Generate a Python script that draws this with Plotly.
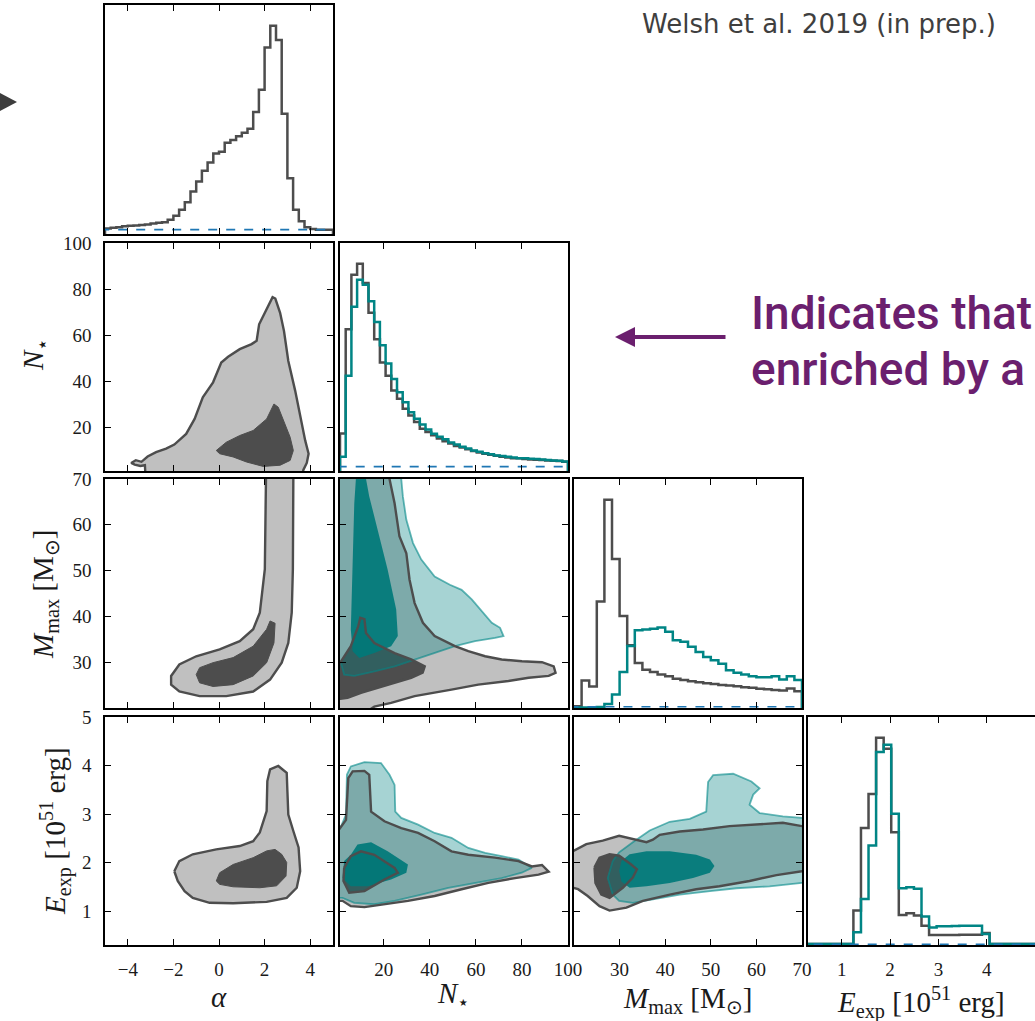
import plotly.graph_objects as go

W, H = 1035, 1021

# ---------------- 1-D marginal histograms (heights scaled so the tallest grey bar = 100) ----------------
ALPHA_BINS = (-5.0, 5.0, 40)
ALPHA_HIST = [2.7, 3.0, 3.3, 3.7, 4.0, 4.1, 4.3, 4.6, 5.1, 5.4,
              5.7, 6.8, 8.8, 11.6, 15.3, 20.4, 25.2, 30.4, 34.4, 38.7,
              39.5, 43.8, 45.1, 47.0, 48.6, 50.6, 58.6, 69.3, 89.6, 100.0,
              93.2, 57.8, 26.8, 11.6, 6.1, 3.2, 2.4, 2.1, 2.1, 2.1]

NSTAR_BINS = (1.0, 100.0, 40)
NSTAR_HIST_GREY = [18.1, 68.4, 94.7, 100.0, 90.7, 76.4, 63.6, 52.4, 46.0, 38.8,
                   34.8, 30.0, 26.8, 23.6, 20.4, 18.8, 17.3, 15.7, 14.4, 13.3,
                   12.1, 11.3, 10.5, 9.6, 8.9, 8.3, 7.8, 7.3, 6.9, 6.5,
                   6.2, 6.1, 5.8, 5.6, 5.4, 5.3, 5.1, 5.0, 4.8, 4.5]
NSTAR_HIST_TEAL = [6.9, 46.0, 79.2, 92.3, 89.9, 81.9, 71.9, 60.7, 51.9, 44.4,
                   38.0, 33.2, 28.4, 25.2, 22.4, 20.0, 18.0, 16.5, 15.3, 13.7,
                   12.8, 11.7, 10.9, 9.9, 9.3, 8.6, 8.1, 7.5, 7.2, 6.9,
                   6.5, 6.2, 6.1, 5.9, 5.8, 5.6, 5.3, 5.1, 5.0, 4.6]

MMAX_BINS = (20.0, 70.0, 30)
MMAX_HIST_GREY = [0.8, 13.2, 10.3, 51.1, 100.0, 71.6, 44.2, 30.2, 21.6, 18.4,
                  17.3, 16.1, 15.2, 14.0, 13.5, 12.9, 12.4, 11.9, 11.5, 11.1,
                  10.8, 10.5, 10.0, 9.7, 9.2, 9.0, 8.7, 8.4, 9.4, 8.1]
MMAX_HIST_TEAL = [0.3, 0.3, 0.3, 0.5, 1.9, 6.5, 17.3, 29.8, 37.4, 37.7,
                  38.1, 38.7, 36.6, 32.6, 31.8, 29.4, 26.9, 24.5, 22.9, 21.3,
                  18.1, 16.9, 16.1, 15.3, 14.8, 14.8, 15.2, 13.7, 15.2, 13.5]

EEXP_BINS = (0.3, 5.0, 30)
EEXP_HIST_GREY = [0.5, 0.5, 0.5, 0.5, 0.5, 0.5, 16.6, 56.4, 72.9, 100.0,
                  94.7, 54.4, 14.5, 15.3, 14.2, 9.3, 4.8, 4.8, 4.8, 4.8,
                  4.9, 4.9, 4.9, 5.8, 0.5, 0.5, 0.5, 0.5, 0.5, 0.5]
EEXP_HIST_TEAL = [0.5, 0.5, 0.5, 0.5, 0.5, 0.5, 6.1, 22.2, 48.0, 93.1,
                  96.6, 63.3, 27.4, 27.9, 27.1, 13.8, 8.5, 9.0, 9.0, 9.2,
                  9.3, 9.3, 9.3, 5.3, 0.5, 0.5, 0.5, 0.5, 0.5, 0.5]

PRIOR_ALPHA = 2.1
PRIOR_NSTAR = 2.1
PRIOR_MMAX = 0.6
PRIOR_EEXP = 0.3

# ---------------- 2-D credible-region contours (vertices in data units) ----------------
# alpha vs N*
A_N_GREY_OUTER = [(-3.2, -5), (-3.25, 3.5), (-3.45, 3.2), (-3.7, 3.8), (-3.85, 4.5), (-3.65, 5.7),
                  (-3.4, 5.0), (-3.13, 7.3), (-2.76, 9.2), (-2.32, 10.7), (-1.96, 12.5), (-1.44, 17.1),
                  (-1.07, 23.6), (-0.71, 33.0), (-0.26, 39.5), (0.10, 48.1), (0.40, 50.6), (0.91, 53.9),
                  (1.43, 56.1), (1.65, 57.5), (1.76, 64.7), (2.09, 71.2), (2.35, 76.5), (2.47, 75.9),
                  (2.68, 69.7), (2.85, 61.8), (3.04, 48.8), (3.34, 35.9), (3.56, 24.4), (3.78, 14.3),
                  (3.93, 8.5), (3.85, 4.5), (3.7, 1.5), (3.6, -5)]
A_N_GREY_INNER = [(-0.12, 9.9), (0.32, 13.5), (0.91, 16.4), (1.5, 18.6), (2.09, 23.6), (2.41, 30.1),
                  (2.6, 28.7), (2.82, 22.9), (3.12, 15.7), (3.26, 9.9), (3.12, 5.6), (2.68, 3.5),
                  (1.94, 3.0), (1.21, 4.9), (0.62, 7.1), (0.03, 8.5)]
# alpha vs Mmax
A_M_GREY_OUTER = [(2.06, 75), (2.06, 70), (2.01, 50.3), (1.79, 40.8), (1.5, 37.2), (0.91, 34.6),
                  (0.03, 32.8), (-1.0, 31.3), (-1.74, 29.5), (-2.1, 27.0), (-2.1, 25.1), (-1.74, 23.6),
                  (-0.85, 22.6), (0.32, 22.6), (1.5, 23.6), (2.24, 26.2), (2.75, 29.9), (3.04, 34.2),
                  (3.19, 40.8), (3.24, 50.3), (3.26, 70), (3.26, 75)]
A_M_GREY_INNER = [(-1.0, 27.3), (-0.85, 28.8), (-0.26, 29.9), (0.62, 31.0), (1.5, 33.5), (2.09, 37.2),
                  (2.24, 39.0), (2.46, 38.5), (2.41, 34.2), (2.09, 29.9), (1.5, 27.0), (0.62, 25.1),
                  (-0.26, 24.7), (-0.85, 25.5)]
# alpha vs Eexp
A_E_GREY_OUTER = [(-1.96, 1.82), (-1.74, 2.03), (-1.15, 2.17), (-0.12, 2.27), (0.91, 2.34), (1.5, 2.44),
                  (1.79, 2.62), (2.09, 3.06), (2.12, 3.68), (2.24, 3.92), (2.6, 3.99), (2.97, 3.85),
                  (3.0, 3.47), (3.04, 2.99), (3.26, 2.65), (3.49, 2.31), (3.56, 1.82), (3.41, 1.48),
                  (2.97, 1.27), (2.09, 1.19), (0.62, 1.16), (-0.41, 1.17), (-1.15, 1.27), (-1.51, 1.41),
                  (-1.81, 1.62)]
A_E_GREY_INNER = [(-0.12, 1.62), (0.03, 1.79), (0.62, 1.96), (1.5, 2.1), (2.09, 2.24), (2.46, 2.27),
                  (2.75, 2.17), (2.97, 2.0), (2.94, 1.72), (2.53, 1.52), (1.79, 1.48), (0.62, 1.5),
                  (0.03, 1.55)]
# N* vs Mmax
N_M_GREY_OUTER = [(-5, 75), (22.5, 75), (22.5, 70), (24.7, 64.7), (26.8, 57.5), (29.8, 53.8), (31.2, 48),
                  (33.4, 42.9), (37, 38.6), (42.1, 35.7), (50.9, 33.5), (56.7, 32.4), (64, 31.3),
                  (71.2, 30.6), (80, 30.2), (88.7, 30.0), (93.8, 29.1), (94.6, 27.7), (91.6, 27.0),
                  (82.9, 26.6), (74.1, 25.9), (61, 25.1), (49.4, 24.0), (33.4, 22.6), (23.2, 21.1),
                  (15.9, 20.3), (12, 19), (-5, 15)]
N_M_GREY_INNER = [(-5, 29.9), (1.1, 29.9), (5.7, 33.5), (8.9, 37.8), (9.8, 39.7), (11.6, 39.4),
                  (12.3, 36.4), (15.9, 34.2), (24.7, 32.0), (31.9, 30.6), (37.8, 29.1), (36.9, 27.7),
                  (31.9, 26.6), (20.3, 24.8), (10.1, 23.3), (4.3, 22.2), (1.1, 22.0), (-5, 22.0)]
N_M_TEAL_OUTER = [(-5, 75), (27.6, 75), (27.6, 70), (28.3, 66.2), (29.8, 61.1), (32.7, 56), (36.3, 52.4),
                  (42.1, 48.7), (48.7, 46.9), (53.8, 45.8), (58.2, 43.7), (62.5, 41.1), (66.9, 38.6),
                  (70.5, 37.5), (72, 35.7), (68.3, 35.3), (59.6, 34.6), (50.9, 33.5), (42.1, 32.0),
                  (33.4, 30.6), (24.7, 29.1), (15.9, 28.0), (7.2, 27.0), (2.8, 27.3), (1.4, 29.9),
                  (-5, 29.9)]
N_M_TEAL_INNER = [(7.9, 75), (7.9, 70), (7.2, 64.7), (6.5, 50.2), (5.7, 37.1), (6.5, 32.4), (9.4, 30.9),
                  (15.9, 32.0), (23.2, 33.5), (26.1, 35.7), (25.4, 41.5), (21.7, 50.2), (17.4, 58.9),
                  (13.7, 66.2), (12.3, 70), (12.3, 75)]
# N* vs Eexp
N_E_GREY_OUTER = [(-5, 2.68), (0.6, 2.68), (3.6, 2.88), (4.6, 3.74), (6.5, 3.88), (11.6, 3.89), (13.7, 3.81),
                  (14.5, 3.05), (20.3, 2.85), (27.6, 2.71), (34.9, 2.61), (42.1, 2.44), (49.4, 2.23),
                  (56.7, 2.16), (68.3, 2.10), (78.5, 2.03), (84.3, 1.92), (88.7, 1.95), (91.6, 1.81),
                  (87.2, 1.75), (77, 1.68), (65.4, 1.58), (53.8, 1.45), (42.1, 1.31), (30.5, 1.21),
                  (20.3, 1.14), (11.6, 1.08), (5.7, 1.10), (2.1, 1.21), (-5, 1.21)]
N_E_GREY_INNER = [(2.8, 1.89), (5.7, 2.13), (10.1, 2.23), (15.9, 2.16), (24.7, 1.89), (26.1, 1.79),
                  (20.3, 1.65), (11.6, 1.41), (5.0, 1.38), (2.5, 1.62)]
N_E_TEAL_OUTER = [(-5, 2.75), (1.5, 2.75), (3.6, 2.99), (4.0, 3.81), (5.7, 3.98), (11.6, 4.07), (18.8, 4.05),
                  (22.5, 3.81), (24.7, 3.6), (25, 3.05), (27.6, 2.92), (34.9, 2.78), (42.1, 2.61),
                  (49.4, 2.51), (56.7, 2.30), (64, 2.20), (71.2, 2.13), (78.5, 2.06), (84.3, 1.89),
                  (79.9, 1.79), (71.2, 1.68), (59.6, 1.58), (48, 1.48), (36.3, 1.34), (24.7, 1.21),
                  (15.9, 1.14), (7.2, 1.17), (2.1, 1.27), (-5, 1.27)]
N_E_TEAL_INNER = [(5.7, 2.16), (8.6, 2.37), (14.5, 2.42), (21.7, 2.23), (30.5, 1.96), (29.8, 1.79),
                  (23.2, 1.65), (13.0, 1.51), (5.7, 1.51), (2.1, 1.68), (2.8, 2.03)]
# Mmax vs Eexp
M_E_GREY_OUTER = [(15, 2.24), (19.9, 2.24), (22.7, 2.38), (26.3, 2.45), (29.9, 2.55), (32.9, 2.48),
                  (35.9, 2.42), (37.3, 2.47), (38.8, 2.57), (43.2, 2.64), (48.3, 2.68), (54.1, 2.75),
                  (60, 2.78), (65.8, 2.82), (70, 2.75), (75, 2.75), (75, 1.82), (70, 1.82), (64.4, 1.74),
                  (58.5, 1.62), (51.9, 1.51), (46.8, 1.45), (41, 1.34), (35.1, 1.21), (31.5, 1.07),
                  (27.8, 1.01), (25.6, 1.10), (23, 1.31), (20.9, 1.45), (19.9, 1.48), (15, 1.48)]
M_E_GREY_INNER = [(24.5, 1.9), (25.6, 2.1), (27.8, 2.17), (29.9, 2.14), (32.4, 1.97), (33.8, 1.86),
                  (32.9, 1.69), (30.7, 1.48), (27.8, 1.27), (26.0, 1.34), (24.7, 1.58)]
M_E_TEAL_OUTER = [(28.5, 2.03), (29.9, 2.21), (32.9, 2.42), (36.6, 2.66), (41, 2.84), (45.4, 2.9),
                  (49, 3.05), (49.4, 3.66), (50.5, 3.8), (54.9, 3.83), (58.9, 3.67), (60.7, 3.53),
                  (59.3, 3.4), (58.5, 3.19), (60.7, 3.02), (65.8, 2.95), (70, 2.92), (75, 2.92),
                  (75, 1.58), (70, 1.58), (62.9, 1.51), (55.6, 1.47), (49.8, 1.41), (43.2, 1.34),
                  (37.3, 1.24), (32.9, 1.17), (29.9, 1.21), (28.5, 1.34), (27.4, 1.68)]
M_E_TEAL_INNER = [(30.4, 2.03), (32.2, 2.17), (35.9, 2.23), (41, 2.23), (46.8, 2.16), (49.8, 2.06),
                  (50.8, 1.93), (49.8, 1.79), (46.1, 1.68), (41, 1.58), (35.9, 1.51), (32.2, 1.48),
                  (30.4, 1.61), (29.9, 1.83)]

# ---------------- styling ----------------
GREY_LINE = "#4d4d4d"
GREY_LIGHT = "#c0c0c0"
GREY_DARK = "#4d4d4d"
TEAL = "#008585"
TEAL_OUTER_FILL = "rgba(0,128,128,0.35)"
TEAL_INNER_FILL = "rgba(0,122,122,0.92)"
TEAL_EDGE = "rgba(0,135,135,0.6)"
PRIOR_BLUE = "#1f77b4"
PURPLE = "#6b1f6e"
SERIF = "Liberation Serif"

COLS = [(105, 333), (340, 568), (574, 802), (808, 1035)]
ROWS = [(5, 234), (243, 471), (479, 708), (717, 945)]

VAR_RANGE = {"alpha": [-5, 5], "nstar": [1, 100], "mmax": [20, 70], "eexp": [0.3, 5.0]}
VAR_TICKS = {"alpha": [-4, -2, 0, 2, 4], "nstar": [20, 40, 60, 80, 100],
             "mmax": [30, 40, 50, 60, 70], "eexp": [1, 2, 3, 4, 5]}

PANELS = {1: (0, 0, "alpha", None), 2: (1, 0, "alpha", "nstar"), 3: (1, 1, "nstar", None),
          4: (2, 0, "alpha", "mmax"), 5: (2, 1, "nstar", "mmax"), 6: (2, 2, "mmax", None),
          7: (3, 0, "alpha", "eexp"), 8: (3, 1, "nstar", "eexp"), 9: (3, 2, "mmax", "eexp"),
          10: (3, 3, "eexp", None)}

fig = go.Figure()


def ax(k):
    return ("x" if k == 1 else f"x{k}"), ("y" if k == 1 else f"y{k}")


def edges(spec):
    lo, hi, n = spec
    return [lo + (hi - lo) * i / n for i in range(n + 1)]


def add_step(k, spec, vals, color):
    e = edges(spec)
    xs, ys = [e[0]], [0]
    for i, v in enumerate(vals):
        xs.append(e[i])
        ys.append(v)
    xs += [e[-1], e[-1]]
    ys += [vals[-1], 0]
    xa, ya = ax(k)
    fig.add_trace(go.Scatter(x=xs, y=ys, mode="lines", line=dict(color=color, width=2.5, shape="hv"),
                             xaxis=xa, yaxis=ya, hoverinfo="skip"))


def add_prior(k, var, level):
    xa, ya = ax(k)
    r = VAR_RANGE[var]
    fig.add_trace(go.Scatter(x=[r[0] - 1, r[1] + 1], y=[level, level], mode="lines",
                             line=dict(color=PRIOR_BLUE, width=1.6, dash="dash"),
                             xaxis=xa, yaxis=ya, hoverinfo="skip"))


def add_poly(k, pts, fill=None, line=None, lw=2.0):
    xa, ya = ax(k)
    xs = [p[0] for p in pts] + [pts[0][0]]
    ys = [p[1] for p in pts] + [pts[0][1]]
    fig.add_trace(go.Scatter(
        x=xs, y=ys, mode="lines",
        fill="toself" if fill else None, fillcolor=fill,
        line=dict(color=line if line else "rgba(0,0,0,0)", width=lw if line else 0),
        xaxis=xa, yaxis=ya, hoverinfo="skip"))


# histograms
add_step(1, ALPHA_BINS, ALPHA_HIST, GREY_LINE)
add_prior(1, "alpha", PRIOR_ALPHA)
add_step(3, NSTAR_BINS, NSTAR_HIST_GREY, GREY_LINE)
add_step(3, NSTAR_BINS, NSTAR_HIST_TEAL, TEAL)
add_prior(3, "nstar", PRIOR_NSTAR)
add_step(6, MMAX_BINS, MMAX_HIST_GREY, GREY_LINE)
add_step(6, MMAX_BINS, MMAX_HIST_TEAL, TEAL)
add_prior(6, "mmax", PRIOR_MMAX)
add_step(10, EEXP_BINS, EEXP_HIST_GREY, GREY_LINE)
add_step(10, EEXP_BINS, EEXP_HIST_TEAL, TEAL)
add_prior(10, "eexp", PRIOR_EEXP)

# grey-only 2-D panels
for k, outer, inner in [(2, A_N_GREY_OUTER, A_N_GREY_INNER),
                        (4, A_M_GREY_OUTER, A_M_GREY_INNER),
                        (7, A_E_GREY_OUTER, A_E_GREY_INNER)]:
    add_poly(k, outer, fill=GREY_LIGHT, line=GREY_LINE, lw=2.4)
    add_poly(k, inner, fill=GREY_DARK, line=GREY_DARK, lw=1.0)

# two-model 2-D panels
for k, go_, gi, to, ti in [(5, N_M_GREY_OUTER, N_M_GREY_INNER, N_M_TEAL_OUTER, N_M_TEAL_INNER),
                           (8, N_E_GREY_OUTER, N_E_GREY_INNER, N_E_TEAL_OUTER, N_E_TEAL_INNER),
                           (9, M_E_GREY_OUTER, M_E_GREY_INNER, M_E_TEAL_OUTER, M_E_TEAL_INNER)]:
    add_poly(k, go_, fill=GREY_LIGHT)
    add_poly(k, gi, fill=GREY_DARK)
    add_poly(k, to, fill=TEAL_OUTER_FILL, line=TEAL_EDGE, lw=1.8)
    add_poly(k, ti, fill=TEAL_INNER_FILL)
    add_poly(k, go_, line=GREY_LINE, lw=2.4)
    add_poly(k, gi, line=GREY_LINE, lw=2.4)

# ---------------- axes ----------------
layout = dict(width=W, height=H, margin=dict(l=0, r=0, t=0, b=0, pad=0, autoexpand=False),
              paper_bgcolor="white", plot_bgcolor="white", showlegend=False)

tickfont = dict(family=SERIF, size=19, color="#1a1a1a")
for k, (r, c, xv, yv) in PANELS.items():
    xname = "xaxis" if k == 1 else f"xaxis{k}"
    yname = "yaxis" if k == 1 else f"yaxis{k}"
    x0, x1 = COLS[c]
    y0, y1 = ROWS[r]
    layout[xname] = dict(
        domain=[x0 / W, x1 / W], range=list(VAR_RANGE[xv]), anchor=ax(k)[1],
        tickmode="array", tickvals=VAR_TICKS[xv], ticks="inside", ticklen=6, tickwidth=1.2,
        tickcolor="black", showline=True, linecolor="black", linewidth=1.6, mirror="ticks",
        showgrid=False, zeroline=False, showticklabels=(r == 3), tickfont=tickfont,
        ticklabelstandoff=6, automargin=False)
    ydom = [1 - y1 / H, 1 - y0 / H]
    if yv is None:
        layout[yname] = dict(
            domain=ydom, range=[0, 110], anchor=ax(k)[0], showticklabels=False, ticks="",
            showline=True, linecolor="black", linewidth=1.6, mirror=(c != 3),
            showgrid=False, zeroline=False, automargin=False)
    else:
        layout[yname] = dict(
            domain=ydom, range=VAR_RANGE[yv], anchor=ax(k)[0],
            tickmode="array", tickvals=VAR_TICKS[yv], ticks="inside", ticklen=6, tickwidth=1.2,
            tickcolor="black", showline=True, linecolor="black", linewidth=1.6, mirror="ticks",
            showgrid=False, zeroline=False, showticklabels=(c == 0), tickfont=tickfont,
            ticklabelstandoff=8, automargin=False)

fig.update_layout(**layout)

# ---------------- axis titles & annotations ----------------
titlefont = dict(family=SERIF, size=29, color="#1a1a1a")
ann = []
for txt, px, py in [("<i>α</i>", 219, 997), ("<i>N</i><sub>⋆</sub>", 453, 995),
                    ("<i>M</i><sub>max</sub> [M<sub>⊙</sub>]", 687, 1000),
                    ("<i>E</i><sub>exp</sub> [10<sup>51</sup> erg]", 921, 1002)]:
    ann.append(dict(text=txt, x=px / W, y=1 - py / H, xref="paper", yref="paper",
                    xanchor="center", yanchor="middle", showarrow=False, font=titlefont))
for txt, px, py in [("<i>N</i><sub>⋆</sub>", 35, 355),
                    ("<i>M</i><sub>max</sub> [M<sub>⊙</sub>]", 45, 595),
                    ("<i>E</i><sub>exp</sub> [10<sup>51</sup> erg]", 55, 831)]:
    ann.append(dict(text=txt, x=px / W, y=1 - py / H, xref="paper", yref="paper",
                    xanchor="center", yanchor="middle", showarrow=False, font=titlefont,
                    textangle=-90))

ann.append(dict(text="Welsh et al. 2019 (in prep.)", x=998 / W, y=1 - 24 / H, xref="paper",
                yref="paper", xanchor="right", yanchor="middle", showarrow=False,
                font=dict(family="DejaVu Sans", size=26, color="#3f3f3f")))
ann.append(dict(text="Indicates that", x=749 / W, y=1 - 313 / H, xref="paper", yref="paper",
                xanchor="left", yanchor="middle", showarrow=False,
                font=dict(family="Roboto", size=46, color=PURPLE, weight=500)))
ann.append(dict(text="enriched by a", x=749 / W, y=1 - 369 / H, xref="paper", yref="paper",
                xanchor="left", yanchor="middle", showarrow=False,
                font=dict(family="Roboto", size=46, color=PURPLE, weight=500)))
ann.append(dict(text="", x=615 / W, y=1 - 337 / H, xref="paper", yref="paper",
                ax=112, ay=0, showarrow=True, arrowhead=2, arrowsize=1.0, arrowwidth=4,
                arrowcolor=PURPLE, standoff=0))
fig.update_layout(annotations=ann)

fig.add_shape(type="path", xref="paper", yref="paper",
              path=f"M 0,{1 - 93 / H} L {17 / W},{1 - 102 / H} L 0,{1 - 111 / H} Z",
              fillcolor="#3d3d3d", line=dict(width=0))

fig.write_html("out.html", config={"displayModeBar": False},
               post_script="document.body.style.margin='0';"
                           "document.documentElement.style.overflow='hidden';")
